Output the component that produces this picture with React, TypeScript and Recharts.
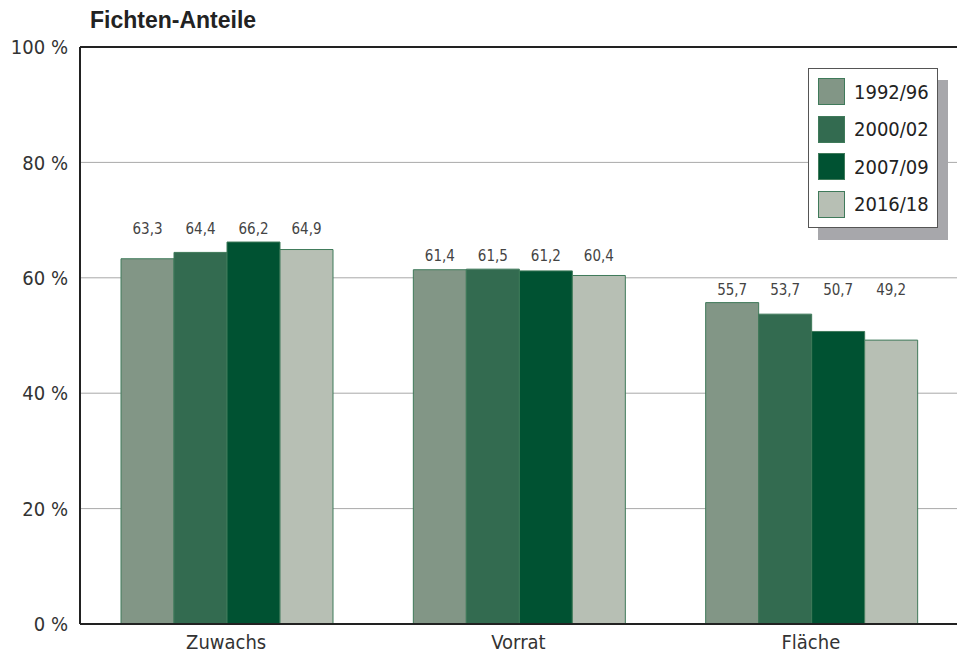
import { Bar, BarChart, CartesianGrid, LabelList, ReferenceLine, XAxis, YAxis } from "recharts";

const CATEGORIES = ["Zuwachs", "Vorrat", "Fläche"];
const PERIODS = ["1992/96", "2000/02", "2007/09", "2016/18"];
const P1992_96 = [63.3, 61.4, 55.7];
const P2000_02 = [64.4, 61.5, 53.7];
const P2007_09 = [66.2, 61.2, 50.7];
const P2016_18 = [64.9, 60.4, 49.2];
const Y_TICKS = [0, 20, 40, 60, 80, 100];

const SERIES = [P1992_96, P2000_02, P2007_09, P2016_18];
const COLORS = ["#829686", "#336b50", "#005232", "#b7bfb4"];

const FONT = "'Liberation Sans Narrow', 'DejaVu Sans Condensed', 'Roboto', sans-serif";

const data = CATEGORIES.map((name, i) => {
  const row: Record<string, string | number> = { name };
  PERIODS.forEach((p, s) => {
    row[p] = SERIES[s][i];
  });
  return row;
});

const groupMax = CATEGORIES.map((_, i) => Math.max(...SERIES.map((s) => s[i])));

const fmt = (v: number) => v.toFixed(1).replace(".", ",");

// value labels sit on one line per group, just above its tallest bar
function GroupLabel(props: any) {
  const { x, y, width, height, value, index } = props;
  const v = Number(value);
  const top = y - ((groupMax[index] - v) * height) / v;
  return (
    <text x={x + width / 2} y={top - 8} textAnchor="middle" fontSize={15} fill="#444" fontFamily={FONT}>
      {fmt(v)}
    </text>
  );
}

function LegendBox() {
  return (
    <div style={{ position: "absolute", left: 808, top: 68, width: 142, height: 174 }}>
      <div
        style={{
          position: "absolute",
          left: 10,
          top: 12,
          width: 130,
          height: 160,
          background: "#a7a7ab",
        }}
      />
      <div
        style={{
          position: "absolute",
          left: 0,
          top: 0,
          width: 128,
          height: 158,
          background: "#fff",
          border: "1px solid #555",
        }}
      >
        {PERIODS.map((p, i) => (
          <div
            key={p}
            style={{
              position: "absolute",
              left: 9,
              top: 9 + i * 37.5,
              display: "flex",
              alignItems: "center",
            }}
          >
            <div
              style={{
                width: 25,
                height: 25,
                background: COLORS[i],
                border: "1px solid #3f7a5a",
              }}
            />
            <span style={{ marginLeft: 9, fontSize: 20, color: "#222", fontFamily: FONT }}>{p}</span>
          </div>
        ))}
      </div>
    </div>
  );
}

export default function App() {
  return (
    <div style={{ position: "absolute", left: 0, top: 0, width: 957, height: 655, background: "#fff" }}>
      <div
        style={{
          position: "absolute",
          left: 90,
          top: 7,
          fontFamily: "'Liberation Sans', Arial, sans-serif",
          fontWeight: 700,
          fontSize: 23,
          color: "#222",
        }}
      >
        Fichten-Anteile
      </div>
      <BarChart
        width={957}
        height={655}
        data={data}
        margin={{ top: 47, right: 0, left: 0, bottom: 0 }}
        barCategoryGap={41}
        barGap={0}
      >
        <CartesianGrid vertical={false} stroke="#a9a9a9" strokeWidth={1} />
        <XAxis
          dataKey="name"
          height={31}
          tickLine={false}
          axisLine={{ stroke: "#222", strokeWidth: 2 }}
          tick={{ fill: "#333", fontSize: 20, fontFamily: FONT }}
          tickMargin={5}
        />
        <YAxis
          width={80}
          domain={[0, 100]}
          ticks={Y_TICKS}
          tickLine={false}
          axisLine={{ stroke: "#222", strokeWidth: 2 }}
          tick={{ fill: "#333", fontSize: 20, fontFamily: FONT }}
          tickMargin={6}
          tickFormatter={(v) => `${v} %`}
        />
        <ReferenceLine y={100} stroke="#222" strokeWidth={2} />
        {PERIODS.map((p, i) => (
          <Bar key={p} dataKey={p} fill={COLORS[i]} stroke="#3f7a5a" strokeWidth={1} isAnimationActive={false}>
            <LabelList dataKey={p} content={<GroupLabel />} />
          </Bar>
        ))}
      </BarChart>
      <LegendBox />
    </div>
  );
}
